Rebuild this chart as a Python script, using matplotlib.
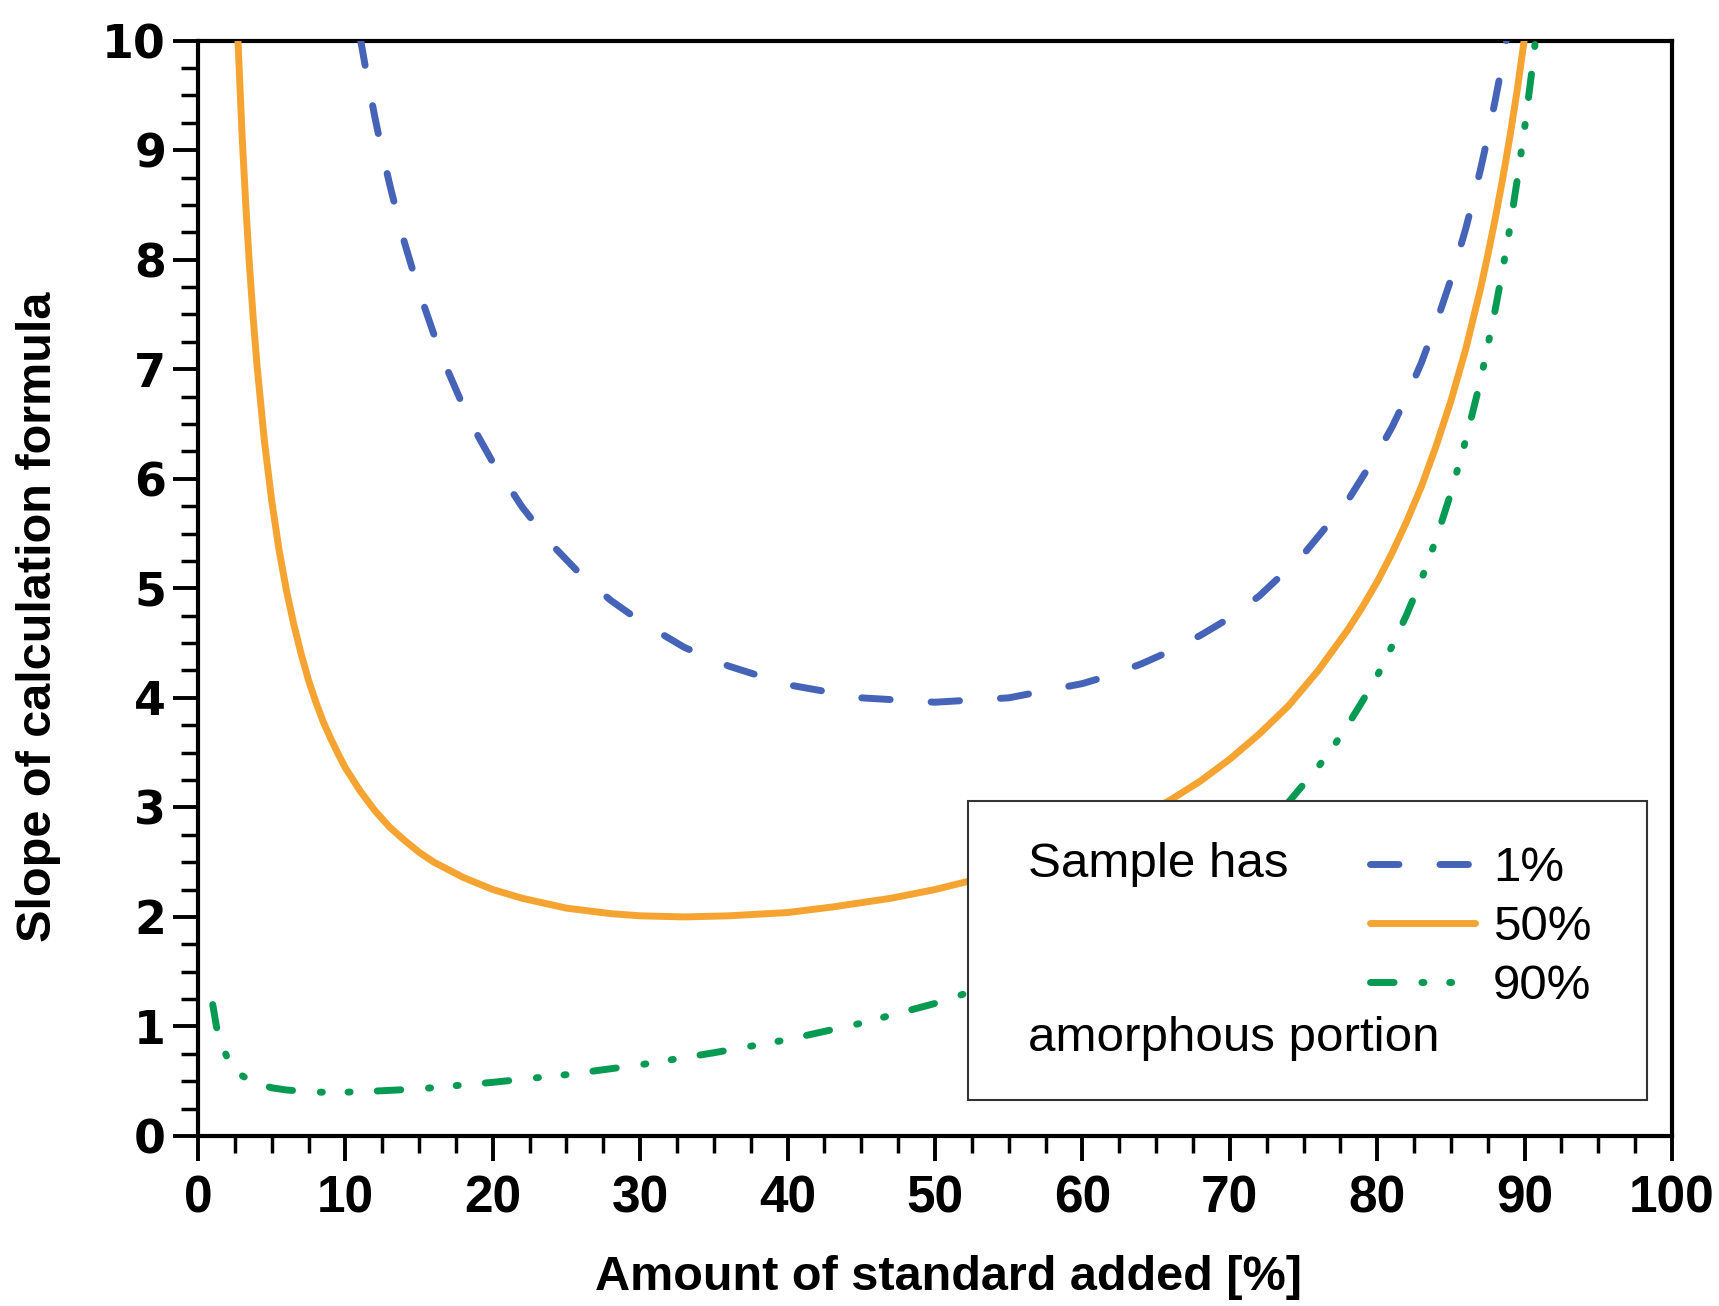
import matplotlib
matplotlib.use('Agg')
import matplotlib.pyplot as plt
from matplotlib.ticker import MultipleLocator
from matplotlib.patches import Rectangle

# ---- data ----
series_labels = ['1%', '50%', '90%']

blue_x = [11, 11.5, 12, 12.5, 13, 13.5, 14, 15, 16, 17, 18, 19, 20, 22, 24, 26, 28, 30,
          33, 36, 40, 45, 50, 55, 60, 62, 64, 66, 68, 70, 72, 75, 78, 80, 81, 82, 83,
          84, 85, 86, 86.5, 87, 87.5, 88, 88.5, 89]
blue_y = [10.03, 9.65, 9.30, 8.98, 8.69, 8.42, 8.16, 7.71, 7.32, 6.97, 6.66, 6.39, 6.15,
          5.74, 5.40, 5.12, 4.89, 4.70, 4.46, 4.29, 4.12, 4.00, 3.96, 4.00, 4.13, 4.21,
          4.31, 4.43, 4.57, 4.73, 4.93, 5.31, 5.80, 6.23, 6.47, 6.75, 7.06, 7.42, 7.82,
          8.28, 8.54, 8.82, 9.12, 9.45, 9.80, 10.19]

orange_x = [2.7, 3, 3.25, 3.5, 3.75, 4, 4.5, 5, 5.5, 6, 6.5, 7, 7.5, 8, 8.5, 9, 9.5, 10,
            11, 12, 13, 14, 15, 16, 17, 18, 20, 22, 25, 28, 30, 33, 36, 40, 43, 47, 50,
            53, 57, 60, 62, 64, 66, 68, 70, 72, 74, 76, 78, 79, 80, 81, 82, 83, 84, 85,
            86, 87, 87.5, 88, 88.5, 89, 89.5, 90]
orange_y = [10.04, 9.11, 8.48, 7.93, 7.46, 7.04, 6.35, 5.80, 5.35, 4.98, 4.67, 4.40, 4.16,
            3.96, 3.78, 3.63, 3.49, 3.36, 3.15, 2.97, 2.82, 2.70, 2.59, 2.50, 2.43, 2.36,
            2.25, 2.17, 2.08, 2.03, 2.01, 2.00, 2.01, 2.04, 2.09, 2.17, 2.25, 2.35, 2.51,
            2.67, 2.79, 2.92, 3.07, 3.24, 3.44, 3.67, 3.93, 4.25, 4.62, 4.83, 5.06, 5.32,
            5.61, 5.93, 6.30, 6.71, 7.18, 7.73, 8.04, 8.37, 8.73, 9.12, 9.55, 10.03]

green_x = [1, 1.25, 1.5, 2, 2.5, 3, 3.5, 4, 5, 6, 7, 8, 10, 12, 15, 20, 25, 30, 35, 40,
           45, 50, 55, 60, 62, 65, 68, 70, 72, 74, 76, 77, 78, 79, 80, 81, 82, 83, 84,
           85, 86, 87, 88, 88.5, 89, 89.5, 90, 90.5, 91]
green_y = [1.20, 1.00, 0.87, 0.71, 0.62, 0.55, 0.51, 0.48, 0.44, 0.42, 0.41, 0.40, 0.40,
           0.41, 0.43, 0.49, 0.56, 0.65, 0.76, 0.88, 1.03, 1.21, 1.43, 1.71, 1.84, 2.06,
           2.33, 2.54, 2.78, 3.05, 3.37, 3.55, 3.75, 3.97, 4.20, 4.47, 4.76, 5.08, 5.45,
           5.87, 6.35, 6.89, 7.54, 7.90, 8.29, 8.73, 9.20, 9.73, 10.31]

x_ticks = [0, 10, 20, 30, 40, 50, 60, 70, 80, 90, 100]
y_ticks = [0, 1, 2, 3, 4, 5, 6, 7, 8, 9, 10]
x_tick_labels = [str(v) for v in x_ticks]
y_tick_labels = [str(v) for v in y_ticks]

# ---- styling ----
C_BLUE = '#4564B7'
C_ORANGE = '#F6A431'
C_GREEN = '#079A52'
LW = 5.0

fig = plt.figure(figsize=(17.19, 13.06), dpi=100)
fig.patch.set_facecolor('white')
ax = fig.add_axes([0.11518, 0.13017, 0.85748, 0.83874])

l1, = ax.plot(blue_x, blue_y, color=C_BLUE, lw=LW, dashes=(4.1, 5.9),
              dash_capstyle='round', solid_joinstyle='round', zorder=3)
l2, = ax.plot(orange_x, orange_y, color=C_ORANGE, lw=LW, solid_capstyle='round',
              solid_joinstyle='round', zorder=3)
l3, = ax.plot(green_x, green_y, color=C_GREEN, lw=LW,
              dashes=(3.4, 4.0, 0.3, 3.7, 0.3, 3.9), dash_capstyle='round', zorder=3)

ax.set_xlim(0, 100)
ax.set_ylim(0, 10)

ax.set_xticks(x_ticks, labels=x_tick_labels,
              fontfamily=['Liberation Sans Narrow', 'Liberation Sans'],
              fontweight='bold', fontsize=37)
ax.set_yticks(y_ticks, labels=y_tick_labels, fontfamily='DejaVu Sans',
              fontweight='bold', fontsize=33)
ax.xaxis.set_minor_locator(MultipleLocator(2.5))
ax.yaxis.set_minor_locator(MultipleLocator(0.25))
ax.tick_params(which='major', direction='out', length=18, width=2.8,
               top=False, right=False, color='black')
ax.tick_params(which='minor', direction='out', length=12, width=2.5,
               top=False, right=False, color='black')
ax.tick_params(axis='y', which='major', pad=5)
ax.tick_params(axis='x', which='major', pad=10)
for sp in ax.spines.values():
    sp.set_linewidth(3.0)
    sp.set_color('black')

ax.set_xlabel('Amount of standard added [%]', fontsize=35, fontweight='bold',
              fontfamily='Liberation Sans')
ax.xaxis.set_label_coords(0.509, -0.129)
ax.xaxis.label.set_va('center')
ax.set_ylabel('Slope of calculation formula', fontsize=35, fontweight='bold',
              fontfamily='Liberation Sans')
ax.yaxis.set_label_coords(-0.1085, 0.474)
ax.yaxis.label.set_va('center')

# ---- legend box ----
ax.add_patch(Rectangle((0.5224, 0.0329), 0.4606, 0.2729, transform=ax.transAxes,
                       facecolor='white', edgecolor='#333333', lw=1.5, zorder=5))
ax.text(0.563, 0.2483, 'Sample has', transform=ax.transAxes, va='center', ha='left',
        fontsize=35.5, fontfamily='Liberation Sans', zorder=7)
ax.text(0.563, 0.0886, 'amorphous portion', transform=ax.transAxes, va='center',
        ha='left', fontsize=35.5, fontfamily='Liberation Sans', zorder=7)
leg = ax.legend(handles=[l1, l2, l3], labels=series_labels, loc='upper left',
                bbox_to_anchor=(0.795, 0.2643), frameon=False, borderpad=0,
                borderaxespad=0, handlelength=2.13, handletextpad=0.37,
                labelspacing=0.28, prop={'family': 'Liberation Sans', 'size': 35.5})
leg.set_zorder(7)

fig.savefig('out.png', dpi=100, facecolor='white')
